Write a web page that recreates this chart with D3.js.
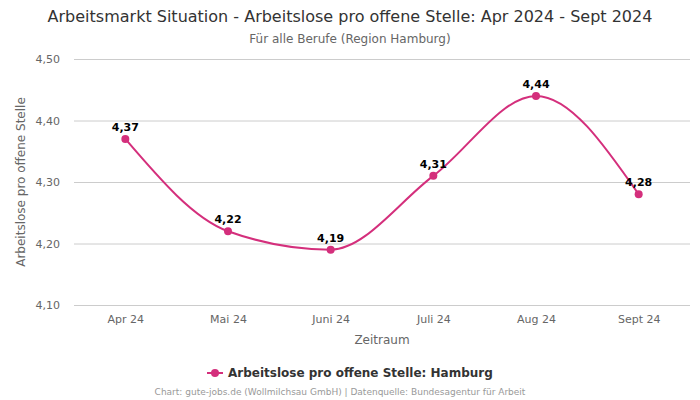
<!DOCTYPE html>
<html><head><meta charset="utf-8">
<script src="https://cdn.jsdelivr.net/npm/d3@7"></script>
<style>body{margin:0;background:#fff}svg{display:block;font-family:"DejaVu Sans",sans-serif}</style>
</head><body><svg id="c" width="700" height="400"></svg>
<script>
const categories = ["Apr 24","Mai 24","Juni 24","Juli 24","Aug 24","Sept 24"];
const values = [4.37, 4.22, 4.19, 4.31, 4.44, 4.28];
const yTicks = [4.10, 4.20, 4.30, 4.40, 4.50];
const seriesName = "Arbeitslose pro offene Stelle: Hamburg";
const color = "#d42f7c";
const fmt = v => v.toFixed(2).replace(".", ",");

const svg = d3.select("#c");
const L = 74, R = 690, T = 59, B = 305;
const x = d3.scalePoint().domain(categories).range([L, R]).padding(0.5);
const y = d3.scaleLinear().domain([4.10, 4.50]).range([B, T]);

svg.append("text").attr("x", 350).attr("y", 22).attr("text-anchor","middle")
  .attr("font-size", 16).attr("fill", "#333").text("Arbeitsmarkt Situation - Arbeitslose pro offene Stelle: Apr 2024 - Sept 2024");
svg.append("text").attr("x", 350).attr("y", 43).attr("text-anchor","middle")
  .attr("font-size", 12).attr("fill", "#666").text("Für alle Berufe (Region Hamburg)");

const yAxis = svg.append("g").attr("transform", `translate(${L},0)`)
  .call(d3.axisLeft(y).tickValues(yTicks).tickSize(-(R - L)).tickFormat(fmt));
yAxis.select(".domain").remove();
yAxis.selectAll(".tick line").attr("stroke", "#ccc");
yAxis.selectAll(".tick text").attr("x", -14).attr("font-size", 11).attr("fill", "#666").attr("font-family","DejaVu Sans");

const xAxis = svg.append("g").attr("transform", `translate(0,${B})`)
  .call(d3.axisBottom(x).tickSize(0).tickPadding(10));
xAxis.select(".domain").remove();
xAxis.selectAll(".tick text").attr("font-size", 11).attr("fill", "#666").attr("font-family","DejaVu Sans");

svg.append("text").attr("x", (L + R) / 2).attr("y", 344).attr("text-anchor","middle")
  .attr("font-size", 12).attr("fill", "#666").text("Zeitraum");
svg.append("text").attr("transform", `translate(25,${(T + B) / 2}) rotate(-90)`).attr("text-anchor","middle")
  .attr("font-size", 12).attr("fill", "#666").text("Arbeitslose pro offene Stelle");

const line = d3.line().x((d, i) => x(categories[i])).y(d => y(d)).curve(d3.curveMonotoneX);
svg.append("path").datum(values).attr("d", line).attr("fill","none").attr("stroke", color).attr("stroke-width", 2);
svg.selectAll("circle.pt").data(values).join("circle").attr("class","pt")
  .attr("cx", (d, i) => x(categories[i])).attr("cy", d => y(d)).attr("r", 4).attr("fill", color);
svg.selectAll("text.lbl").data(values).join("text").attr("class","lbl")
  .attr("x", (d, i) => x(categories[i])).attr("y", d => y(d) - 8).attr("text-anchor","middle")
  .attr("font-size", 11).attr("font-weight","bold").attr("fill","#000").text(fmt);

const lg = svg.append("g");
lg.append("line").attr("x1", 207).attr("x2", 223).attr("y1", 373).attr("y2", 373).attr("stroke", color).attr("stroke-width", 2);
lg.append("circle").attr("cx", 215).attr("cy", 373).attr("r", 4).attr("fill", color);
lg.append("text").attr("x", 228).attr("y", 377).attr("font-size", 12).attr("font-weight","bold").attr("fill","#333").text(seriesName);

svg.append("text").attr("x", 340).attr("y", 395).attr("text-anchor","middle")
  .attr("font-size", 9).attr("fill", "#999").text("Chart: gute-jobs.de (Wollmilchsau GmbH) | Datenquelle: Bundesagentur für Arbeit");
</script></body></html>
